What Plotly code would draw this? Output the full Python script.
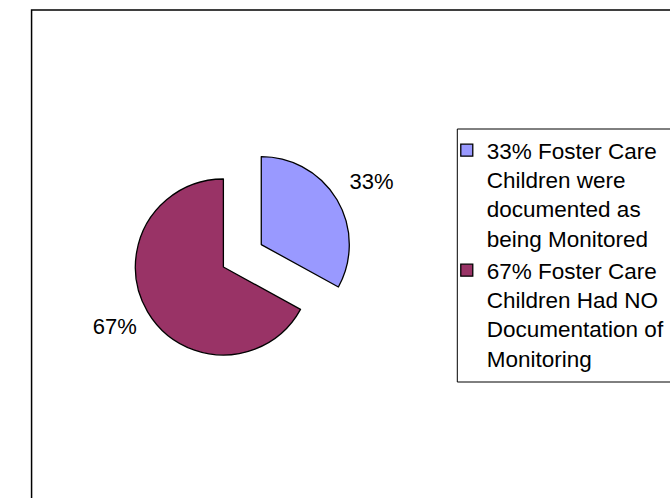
import plotly.graph_objects as go

labels = [
    "33% Foster Care<br>Children were<br>documented as<br>being Monitored",
    "67% Foster Care<br>Children Had NO<br>Documentation of<br>Monitoring",
]
values = [33, 67]
colors = ["#9999FF", "#993366"]
pulls = [0.5, 0]

W, H = 670, 498
FONT = "Liberation Sans, Arial, sans-serif"

# small invisible spacer line to push outside labels away from the pie, like the original
SP = "<span style='font-size:6px'>\u00a0</span>"
text_templates = [
    "%{percent:.0%}<br>" + SP,
    "<span style='font-size:11px'>\u00a0</span><br>%{percent:.0%}",
]

fig = go.Figure(
    go.Pie(
        labels=labels,
        values=values,
        sort=False,
        direction="clockwise",
        rotation=0,
        pull=pulls,
        marker=dict(colors=colors, line=dict(color="#000000", width=1.3)),
        texttemplate=text_templates,
        textposition="outside",
        textfont=dict(family=FONT, size=22, color="#000000"),
        hoverinfo="label+percent",
        domain=dict(x=[72.5 / W, 348.5 / W], y=[1 - 405 / H, 1 - 129 / H]),
    )
)

fig.update_layout(
    width=W,
    height=H,
    margin=dict(l=0, r=0, t=0, b=0),
    paper_bgcolor="#FFFFFF",
    plot_bgcolor="#FFFFFF",
    font=dict(family=FONT, size=22, color="#000000"),
    showlegend=True,
    legend=dict(
        x=444 / W,
        xanchor="left",
        y=1 - 129 / H,
        yanchor="top",
        valign="top",
        bgcolor="rgba(0,0,0,0)",
        borderwidth=0,
        font=dict(family=FONT, size=22.5, color="#000000"),
        tracegroupgap=0,
    ),
    shapes=[
        dict(type="rect", xref="paper", yref="paper",
             x0=10 / W, x1=1.2, y0=-0.2, y1=1 - 10 / H,
             line=dict(color="#000000", width=1.5), fillcolor="rgba(0,0,0,0)",
             layer="below"),
        dict(type="rect", xref="paper", yref="paper",
             x0=455 / W, x1=1.2, y0=1 - 382 / H, y1=1 - 129 / H,
             line=dict(color="#000000", width=1), fillcolor="rgba(0,0,0,0)",
             layer="below"),
    ],
)

fig.write_html("out.html")
